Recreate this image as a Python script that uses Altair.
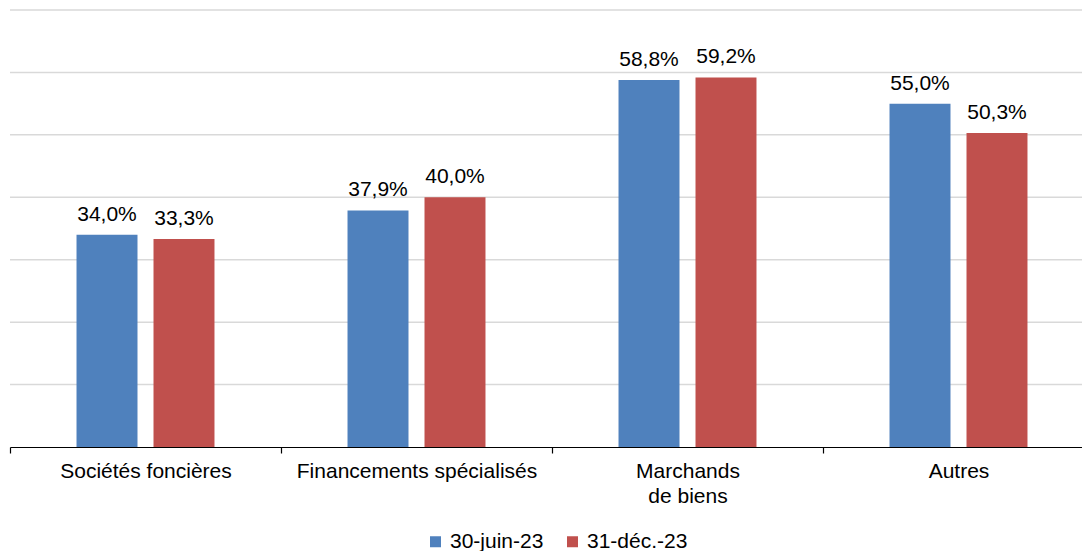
import altair as alt
import pandas as pd

categories = ["Sociétés foncières", "Financements spécialisés", "Marchands de biens", "Autres"]
series = ["30-juin-23", "31-déc.-23"]
values_juin = [34.0, 37.9, 58.8, 55.0]
values_dec = [33.3, 40.0, 59.2, 50.3]
colors = ["#4F81BD", "#C0504D"]
grid_values = [10, 20, 30, 40, 50, 60, 70]

rows = []
for s, vals in zip(series, [values_juin, values_dec]):
    for c, v in zip(categories, vals):
        rows.append({"cat": c, "serie": s, "val": v,
                     "label": f"{v:.1f}%".replace(".", ",")})
df = pd.DataFrame(rows)
grid_df = pd.DataFrame({"g": grid_values})

FONT = "Liberation Sans"
FS = 21

yscale = alt.Scale(domain=[0, 70], nice=False)

grid = alt.Chart(grid_df).mark_rule(color="#D9D9D9", strokeWidth=1.5).encode(
    y=alt.Y("g:Q", scale=yscale, axis=None, title=None),
    x=alt.value(0), x2=alt.value(1090),
)

x = alt.X("cat:N", sort=categories, title=None,
          scale=alt.Scale(range=[0, 1084], paddingInner=0, paddingOuter=0),
          axis=alt.Axis(labelAngle=0, labelFontSize=FS, labelFont=FONT, labelColor="#000",
                        labelLimit=400, zindex=1,
                        domainColor="#000", domainWidth=1.2, tickColor="#000", tickSize=6,
                        tickWidth=1.2, tickBand="extent", labelPadding=7, labelLineHeight=25,
                        labelBaseline="top",
                        labelExpr="datum.value == 'Marchands de biens' ? ['Marchands', 'de biens'] : datum.value"))
xo = alt.XOffset("serie:N", sort=series,
                 scale=alt.Scale(paddingInner=0.208, paddingOuter=0.864))
y = alt.Y("val:Q", title=None, scale=yscale, axis=None)

bars = alt.Chart(df).mark_bar().encode(
    x=x, xOffset=xo, y=y,
    color=alt.Color("serie:N", sort=series,
                    scale=alt.Scale(domain=series, range=colors),
                    legend=alt.Legend(title=None, orient="none", legendX=415, legendY=521,
                                      direction="horizontal", symbolType="square",
                                      symbolSize=121, symbolStrokeWidth=0,
                                      labelFontSize=FS, labelFont=FONT, labelColor="#000",
                                      labelOffset=4, columnPadding=18, padding=0)),
)

text = alt.Chart(df).mark_text(fontSize=FS, font=FONT, color="#000",
                               baseline="alphabetic", dy=-14).encode(
    x=alt.X("cat:N", sort=categories), xOffset=alt.XOffset("serie:N", sort=series),
    y="val:Q", text="label:N",
)

chart = (grid + bars + text).properties(
    width=1072, height=437,
    autosize=alt.AutoSizeParams(type="none"),
    padding={"left": 2, "top": 2, "right": 0, "bottom": 104},
).configure_view(stroke=None)

chart.save("out.html", embed_options={"renderer": "svg", "actions": False})
